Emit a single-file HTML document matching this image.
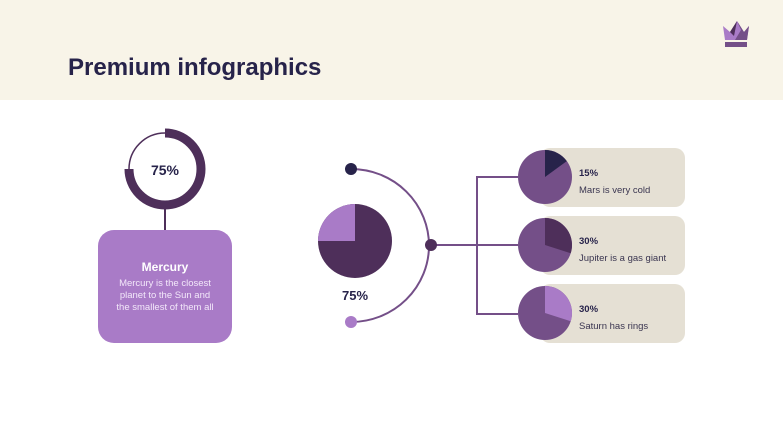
<!DOCTYPE html>
<html><head><style>
body{margin:0;width:783px;height:440px;background:#fff;font-family:"Liberation Sans",sans-serif;overflow:hidden;position:relative}
.hdr{position:absolute;left:0;top:0;width:783px;height:100px;background:#f8f4e8}
.t{position:absolute;left:68px;top:54px;font-size:24px;font-weight:bold;color:#27234a}
.box{position:absolute;left:98px;top:230px;width:134px;height:113px;border-radius:16px;background:#a97bc7;color:#fff;text-align:center}
.card{position:absolute;left:540px;width:145px;height:59px;border-radius:10px;background:#e5e0d4}
.p{position:absolute;left:579px;font-size:9.5px;font-weight:bold;color:#27234a}
.l{position:absolute;left:579px;font-size:9.5px;color:#3a3550}
</style></head><body>
<div class="hdr"></div>
<div class="t">Premium infographics</div>
<svg style="position:absolute;left:721px;top:18px" width="30" height="30" viewBox="0 0 30 30">
<polygon points="2,8 9,14 16,3 23,14 28,8 26,22 4,22" fill="#a97bc7"/>
<polygon points="16,3 23,14 28,8 26,22 14,22 20,12" fill="#744f88"/>
<polygon points="16,3 9,14 13,18" fill="#4e2f5a"/>
<rect x="4" y="24" width="22" height="5" fill="#744f88"/>
</svg>
<div class="box"><div style="margin-top:30px;font-size:12px;font-weight:bold">Mercury</div>
<div style="margin-top:4px;font-size:9.5px;line-height:12px;color:#f3e8fa">Mercury is the closest<br>planet to the Sun and<br>the smallest of them all</div></div>
<div class="card" style="top:148px"></div>
<div class="card" style="top:216px"></div>
<div class="card" style="top:284px"></div>
<svg style="position:absolute;left:0;top:0" width="783" height="440">
<circle cx="165" cy="169" r="36" fill="none" stroke="#4e2f5a" stroke-width="1.5"/>
<path d="M165,133 A36,36 0 1,1 129,169" fill="none" stroke="#4e2f5a" stroke-width="9"/>
<line x1="165" y1="209" x2="165" y2="230" stroke="#4e2f5a" stroke-width="2"/>
<text x="165" y="175" font-size="14" font-weight="bold" fill="#27234a" text-anchor="middle" font-family="Liberation Sans">75%</text>
<circle cx="355" cy="241" r="37" fill="#4e2f5a"/>
<path d="M355,241 L318,241 A37,37 0 0,1 355,204 Z" fill="#a97bc7"/>
<text x="355" y="300" font-size="13" font-weight="bold" fill="#27234a" text-anchor="middle" font-family="Liberation Sans">75%</text>
<path d="M351,169 A78,76.5 0 0,1 351,322" fill="none" stroke="#744f88" stroke-width="2"/>
<circle cx="351" cy="169" r="6" fill="#27234a"/>
<circle cx="351" cy="322" r="6" fill="#a97bc7"/>
<line x1="431" y1="245" x2="518" y2="245" stroke="#744f88" stroke-width="2"/>
<polyline points="518,177 477,177 477,314 518,314" fill="none" stroke="#744f88" stroke-width="2"/>
<circle cx="431" cy="245" r="6" fill="#4e2f5a"/>
<circle cx="545" cy="177" r="27" fill="#744f88"/>
<path d="M545,177 L545,150 A27,27 0 0,1 566.8,161.1 Z" fill="#27234a"/>
<circle cx="545" cy="245" r="27" fill="#744f88"/>
<path d="M545,245 L545,218 A27,27 0 0,1 570.7,253.3 Z" fill="#4e2f5a"/>
<circle cx="545" cy="313" r="27" fill="#744f88"/>
<path d="M545,313 L545,286 A27,27 0 0,1 570.7,321.3 Z" fill="#a97bc7"/>
</svg>
<div class="p" style="top:168px">15%</div><div class="l" style="top:185px">Mars is very cold</div>
<div class="p" style="top:236px">30%</div><div class="l" style="top:253px">Jupiter is a gas giant</div>
<div class="p" style="top:304px">30%</div><div class="l" style="top:321px">Saturn has rings</div>
</body></html>
